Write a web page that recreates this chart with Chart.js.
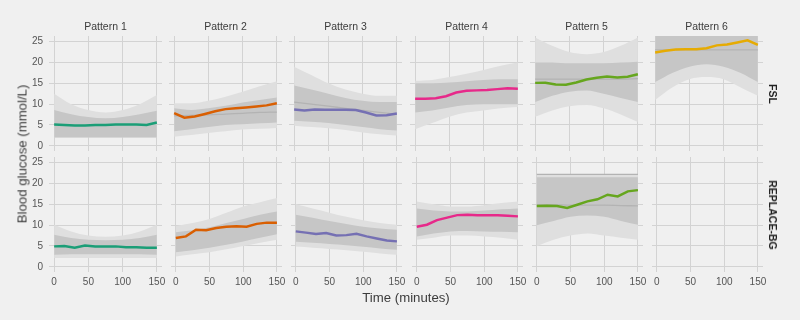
<!DOCTYPE html>
<html lang="en">
<head>
<meta charset="UTF-8" />
<title>Blood glucose patterns</title>
<script src="https://cdn.jsdelivr.net/npm/chart.js"></script>
<style>
  body { margin: 0; background: #f0f0f0; font-family: "Liberation Sans", Arial, sans-serif; }
  #wrap { position: relative; width: 800px; height: 320px; overflow: hidden; }
  canvas { position: absolute; }
  .lbl { position: absolute; white-space: nowrap; color: #3c3c3c; transform: translate(-50%, -50%); }
  .strip { font-size: 10.5px; }
  .side { font-size: 10.5px; font-weight: bold; color: #222; transform: translate(-50%, -50%) rotate(90deg); }
  .title { font-size: 13.2px; }
</style>
</head>
<body>
<div id="wrap"></div>
<script>
  const patterns = ["Pattern 1", "Pattern 2", "Pattern 3", "Pattern 4", "Pattern 5", "Pattern 6"];
  const groups = ["FSL", "REPLACE-BG"];
  const times = [0, 15, 30, 45, 60, 75, 90, 105, 120, 135, 150];
  const bandTimes = [0, 25, 50, 75, 100, 125, 150];
  const xTicks = [0, 50, 100, 150];
  const yTicks = [0, 5, 10, 15, 20, 25];
  const colors = ["#1b9e77", "#d95f02", "#7570b3", "#e7298a", "#66a61e", "#e6ab02"];

  // mean curves, one value every 15 minutes
  const meanFSL1 = [5.1, 5.0, 4.9, 4.9, 5.0, 5.0, 5.1, 5.1, 5.1, 5.0, 5.6];
  const meanFSL2 = [7.85, 6.75, 7.05, 7.65, 8.3, 8.8, 9.0, 9.2, 9.45, 9.7, 10.2];
  const meanFSL3 = [8.7, 8.5, 8.7, 8.65, 8.65, 8.65, 8.6, 8.0, 7.3, 7.35, 7.75];
  const meanFSL4 = [11.3, 11.3, 11.4, 11.9, 12.8, 13.2, 13.3, 13.4, 13.6, 13.8, 13.7];
  const meanFSL5 = [15.1, 15.15, 14.7, 14.65, 15.2, 15.9, 16.35, 16.6, 16.4, 16.55, 17.15];
  const meanFSL6 = [22.4, 22.8, 23.1, 23.15, 23.15, 23.4, 24.1, 24.3, 24.8, 25.3, 24.2];
  const meanRBG1 = [4.9, 5.0, 4.6, 5.1, 4.9, 4.9, 4.9, 4.7, 4.7, 4.6, 4.6];
  const meanRBG2 = [6.9, 7.3, 8.9, 8.8, 9.3, 9.6, 9.7, 9.6, 10.3, 10.6, 10.6];
  const meanRBG3 = [8.5, 8.2, 7.9, 8.1, 7.5, 7.6, 7.9, 7.3, 6.8, 6.3, 6.1];
  const meanRBG4 = [9.6, 10.1, 11.2, 11.8, 12.4, 12.5, 12.4, 12.4, 12.35, 12.25, 12.1];
  const meanRBG5 = [14.6, 14.65, 14.6, 14.1, 14.9, 15.7, 16.2, 17.3, 16.9, 18.1, 18.4];

  // spread of individual traces at bandTimes: [outer low, core low, core high, outer high]
  const bandFSL1 = [[2.0, 2.0, 2.0, 2.0, 2.0, 2.0, 2.0], [2.0, 2.0, 2.0, 2.0, 2.0, 2.0, 2.0],
                    [8.6, 7.6, 6.9, 6.6, 6.9, 7.6, 8.4], [12.5, 10, 8.6, 8, 8.6, 10, 12.2]];
  const bandFSL2 = [[2.2, 2.6, 3.1, 3.5, 3.9, 4.1, 4.3], [3.5, 4, 4.5, 5, 5.2, 5.4, 5.6],
                    [9, 8.6, 9, 9.6, 10.4, 11, 11.6], [10.2, 10.2, 10.8, 11.8, 13, 14.3, 15.5]];
  const bandFSL3 = [[4.8, 4.5, 4.2, 3.8, 3.2, 2.8, 2.5], [6, 5.8, 5.5, 5, 4.5, 4, 3.7],
                    [14.5, 13.5, 12.5, 11.5, 10.8, 10.5, 10.5], [19, 17, 15, 13.5, 12.5, 12, 12]];
  const bandFSL4 = [[4, 5.5, 7, 8, 8.5, 9, 9.3], [8, 8.5, 9.2, 9.8, 10, 10, 10],
                    [15, 15, 15.2, 15.5, 15.8, 16, 16], [15.6, 15.8, 16.5, 17.3, 18.2, 19.2, 20]];
  const bandFSL5 = [[7, 8.5, 9.5, 9.8, 9, 7.5, 5.7], [10.5, 12, 13, 13.3, 12.5, 11.5, 10.5],
                    [20, 20, 19.8, 19.8, 19.8, 20, 20.2], [26, 24, 22.5, 22, 22.5, 24, 26]];
  const bandFSL6 = [[11, 14, 16, 16.5, 16, 14, 12], [15.3, 17.5, 19, 19.6, 19, 17.5, 15.3],
                    [26.5, 26.5, 26.5, 26.5, 26.5, 26.5, 26.5], [26.5, 26.5, 26.5, 26.5, 26.5, 26.5, 26.5]];
  const bandRBG1 = [[2.1, 2.1, 2.1, 2.1, 2.1, 2.1, 2.1], [2.9, 3, 3, 3, 3, 3, 2.9],
                    [7.7, 6.9, 6.5, 6.4, 6.5, 6.9, 7.7], [10.1, 8.5, 7.5, 7.2, 7.5, 8.5, 10.1]];
  const bandRBG2 = [[2.5, 3, 3.5, 4.2, 5, 5.8, 6.5], [3.5, 4, 4.6, 5.3, 6.1, 7, 7.8],
                    [8.3, 8.8, 9.5, 10.5, 11.5, 12.5, 13.3], [9.8, 10.5, 11.5, 13, 14.5, 15.5, 16.5]];
  const bandRBG3 = [[4.9, 4.6, 4.3, 4, 3.6, 3.2, 2.9], [6, 5.8, 5.5, 5.2, 4.8, 4.4, 4.1],
                    [12.5, 11.8, 11, 10.3, 9.6, 9.2, 8.9], [15, 14, 13, 12, 11.2, 10.5, 10.1]];
  const bandRBG4 = [[6.5, 7, 7.5, 7.5, 7.3, 7, 6.5], [7.3, 8, 8.5, 8.6, 8.5, 8.4, 8.3],
                    [14, 13.5, 13.3, 13.3, 13.5, 13.8, 14], [15.7, 15, 14.5, 14.5, 14.8, 15.3, 15.7]];
  const bandRBG5 = [[5, 6.5, 7.5, 8, 7.5, 7, 6.5], [10, 11, 12, 12.3, 12, 11, 10.1],
                    [21.5, 21.5, 21.5, 21.5, 21.5, 21.5, 21.5], [22.3, 22.3, 22.3, 22.3, 22.3, 22.3, 22.3]];

  // darker grey reference lines seen inside some bands
  const refFSL2 = [[7.2, 7.3, 7.4, 7.6, 7.8, 8.0, 8.1]];
  const refFSL3 = [[10.5, 10, 9.5, 9, 8.5, 8, 7.6]];
  const refFSL5 = [[16, 16, 16, 16, 16, 16, 16.1]];
  const refFSL6 = [[23, 23, 23, 23, 23, 23, 23]];
  const refRBG5 = [[14.9, 14.9, 14.8, 14.8, 14.8, 14.7, 14.6], [22.2, 22.2, 22.2, 22.2, 22.2, 22.2, 22.2]];

  const rows = [
    { means: [meanFSL1, meanFSL2, meanFSL3, meanFSL4, meanFSL5, meanFSL6],
      bands: [bandFSL1, bandFSL2, bandFSL3, bandFSL4, bandFSL5, bandFSL6],
      refs: [[], refFSL2, refFSL3, [], refFSL5, refFSL6] },
    { means: [meanRBG1, meanRBG2, meanRBG3, meanRBG4, meanRBG5, null],
      bands: [bandRBG1, bandRBG2, bandRBG3, bandRBG4, bandRBG5, null],
      refs: [[], [], [], [], refRBG5, []] }
  ];

  const colLeft = [49, 169, 289, 410, 530, 650];
  const rowTop = [36, 157];
  const panelW = 113, panelH = 115;
  // generous padding so tick-label overflow never shrinks the plot area
  const pad = { top: 15, right: 15, bottom: 15, left: 0 };
  const wrap = document.getElementById("wrap");
  const font = "'Liberation Sans', Arial, sans-serif";

  const pts = (xs, ys) => xs.map((x, i) => ({ x: x, y: ys[i] }));

  function bandSets(band) {
    const smooth = { pointRadius: 0, borderWidth: 0, tension: 0.4, cubicInterpolationMode: "monotone" };
    return [
      Object.assign({ data: pts(bandTimes, band[2]), fill: "+1", backgroundColor: "#c6c6c6" }, smooth),
      Object.assign({ data: pts(bandTimes, band[1]), fill: false }, smooth),
      Object.assign({ data: pts(bandTimes, band[3]), fill: "+1", backgroundColor: "#dfdfdf" }, smooth),
      Object.assign({ data: pts(bandTimes, band[0]), fill: false }, smooth)
    ];
  }

  function makePanel(r, c) {
    const mean = rows[r].means[c], band = rows[r].bands[c], refs = rows[r].refs[c];
    const yW = c === 0 ? 30 : 0;
    const xH = r === 1 ? 20 : 0;
    const cv = document.createElement("canvas");
    const w = yW + panelW + pad.right, h = pad.top + panelH + xH + pad.bottom;
    cv.width = w; cv.height = h;
    cv.style.width = w + "px"; cv.style.height = h + "px";
    cv.style.left = (colLeft[c] - yW) + "px";
    cv.style.top = (rowTop[r] - pad.top) + "px";
    wrap.appendChild(cv);

    const datasets = [];
    if (mean) {
      datasets.push({ data: pts(times, mean), borderColor: colors[c], borderWidth: 2.5,
                      pointRadius: 0, pointHoverRadius: 0, fill: false, tension: 0 });
      refs.forEach(ref => datasets.push({ data: pts(bandTimes, ref), borderColor: "#b3b3b3",
                      borderWidth: 1.3, pointRadius: 0, pointHoverRadius: 0, fill: false, tension: 0.4 }));
      bandSets(band).forEach(d => datasets.push(d));
    }

    new Chart(cv, {
      type: "line",
      data: { datasets: datasets },
      options: {
        responsive: false,
        animation: false,
        devicePixelRatio: 1,
        layout: { padding: pad },
        plugins: { legend: { display: false }, tooltip: { enabled: false } },
        scales: {
          x: {
            type: "linear", min: -7.5, max: 157.5,
            afterBuildTicks: s => { s.ticks = xTicks.map(v => ({ value: v })); },
            afterFit: s => { s.height = xH; },
            grid: { color: "#d3d3d3", lineWidth: 1, drawTicks: false },
            border: { display: false },
            ticks: { display: r === 1, padding: 4, maxRotation: 0, autoSkip: false,
                     color: "#555", font: { family: font, size: 10 } }
          },
          y: {
            min: -1.25, max: 26.35,
            afterBuildTicks: s => { s.ticks = yTicks.map(v => ({ value: v })); },
            afterFit: s => { s.width = yW; },
            grid: { color: "#d3d3d3", lineWidth: 1, drawTicks: false },
            border: { display: false },
            ticks: { display: c === 0, padding: 6, color: "#555", font: { family: font, size: 10 } }
          }
        }
      }
    });
  }

  for (let r = 0; r < 2; r++) for (let c = 0; c < 6; c++) makePanel(r, c);

  function addLabel(text, cls, x, y) {
    const d = document.createElement("div");
    d.className = "lbl " + cls;
    d.textContent = text;
    d.style.left = x + "px";
    d.style.top = y + "px";
    wrap.appendChild(d);
  }

  patterns.forEach((p, c) => addLabel(p, "strip", colLeft[c] + panelW / 2, 26));
  groups.forEach((g, r) => addLabel(g, "side", 773, rowTop[r] + panelH / 2));
  addLabel("Time (minutes)", "title", (colLeft[0] + colLeft[5] + panelW) / 2, 297);
  const yt = document.createElement("div");
  yt.className = "lbl title";
  yt.textContent = "Blood glucose (mmol/L)";
  yt.style.left = "22px";
  yt.style.top = ((rowTop[0] + rowTop[1] + panelH) / 2) + "px";
  yt.style.transform = "translate(-50%, -50%) rotate(-90deg)";
  wrap.appendChild(yt);
</script>
</body>
</html>
